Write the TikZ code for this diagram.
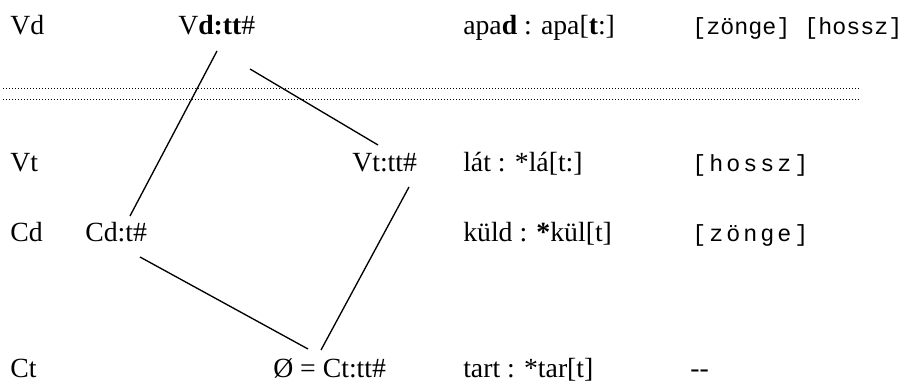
\documentclass[tikz,border=0pt]{standalone}
\usepackage{fontspec}
\setmainfont{Liberation Serif}
\setmonofont{Liberation Mono}
\usetikzlibrary{calc}
\tikzset{
	lbl/.style={anchor=base west, inner sep=0pt, font=\fontsize{20.8pt}{24pt}\selectfont},
	feat/.style={anchor=base west, inner sep=0pt, font=\fontsize{17.5pt}{20pt}\selectfont\ttfamily},
	wide/.style={feat, font=\fontsize{17.5pt}{20pt}\selectfont\ttfamily\addfontfeature{LetterSpace=13}},
	link/.style={line width=1pt, color=black}
}

\begin{document}
\begin{tikzpicture}[x=0.75pt, y=0.75pt]
		%%%%% START %%%%%
		\useasboundingbox (0, 0) rectangle (902, 384);
		
		% left column
		\node[lbl] (vd) at (10, 349) {Vd};
		\node[lbl] (vt) at (10, 212) {Vt};
		\node[lbl] (cd) at (10, 142) {Cd};
		\node[lbl] (ct) at (10, 6) {Ct};
		
		% the square
		\node[lbl] (vdtt) at (178, 349) {V\textbf{d:tt}\#};
		\node[lbl] (vttt) at (352, 212) {Vt:tt\#};
		\node[lbl] (cdt) at (85, 142) {Cd:t\#};
		\node[lbl] (cttt) at (273, 6) {Ø = Ct:tt\#};
		
		% examples
		\node[lbl] (ex1) at (463, 349) {apa\textbf{d} : apa[\textbf{t}:]};
		\node[lbl] (ex2) at (463, 212) {lát : *lá[t:]};
		\node[lbl] (ex3) at (463, 142) {küld : \textbf{*}kül[t]};
		\node[lbl] (ex4) at (463, 6) {tart : *tar[t]};
		
		% features
		\node[feat] (ft1) at (692, 349) {[zönge] [hossz]};
		\node[wide] (ft2) at (692, 212) {[hossz]};
		\node[wide] (ft3) at (692, 142) {[zönge]};
		\node[lbl] (ft4) at (690, 6) {-{}-};
		
		% dotted double line
		\draw[line width=0.75pt, dash pattern=on 0.75pt off 1.5pt] (3, 295) -- (860, 295);
		\draw[line width=0.75pt, dash pattern=on 0.75pt off 1.5pt] (3, 284) -- (860, 284);
		
		% connectors
		\draw[link] ([shift={(39,-16)}]vdtt.base west) -- ([shift={(45,26)}]cdt.base west);
		\draw[link] ([shift={(72,-34)}]vdtt.base west) -- ([shift={(26,27)}]vttt.base west);
		\draw[link] ([shift={(57,-15)}]vttt.base west) -- ([shift={(48,28)}]cttt.base west);
		\draw[link] ([shift={(55,-15)}]cdt.base west) -- ([shift={(35,29)}]cttt.base west);
		
		%%%%% END %%%%%
	\end{tikzpicture}
\end{document}
